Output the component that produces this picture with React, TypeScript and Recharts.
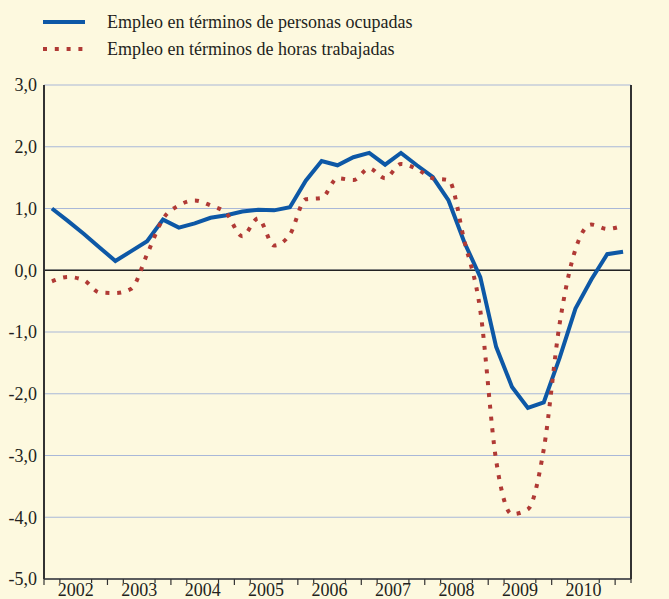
import React from 'react';
import { LineChart, Line, XAxis, YAxis, CartesianGrid, ReferenceLine } from 'recharts';

// quarterly series, 2002 Q1 .. 2011 Q1
const years = ['2002', '2003', '2004', '2005', '2006', '2007', '2008', '2009', '2010'];

const personas = [
  1.0, 0.8, 0.59, 0.37, 0.15, 0.31, 0.47, 0.82, 0.69, 0.76, 0.85, 0.89, 0.95,
  0.98, 0.97, 1.02, 1.45, 1.77, 1.7, 1.83, 1.9, 1.71, 1.9, 1.7, 1.51, 1.13,
  0.45, -0.11, -1.24, -1.89, -2.23, -2.14, -1.42, -0.62, -0.15, 0.26, 0.3,
];

const horas = [
  -0.18, -0.11, -0.16, -0.36, -0.37, -0.3, 0.26, 0.83, 1.05, 1.13, 1.05, 0.92,
  0.55, 0.84, 0.4, 0.58, 1.15, 1.17, 1.49, 1.46, 1.65, 1.49, 1.72, 1.64, 1.49,
  1.46, 0.47, -0.65, -3.08, -3.95, -3.87, -2.9, -0.87, 0.34, 0.74, 0.67, 0.72,
];

const yTicks = [-5, -4, -3, -2, -1, 0, 1, 2, 3];
const xTicks = Array.from({ length: 38 }, (_, i) => i);

const data = personas.map((v, i) => ({ q: i + 0.5, personas: v, horas: horas[i] }));

const FONT = 'Liberation Serif, Tinos, DejaVu Serif, serif';
const TEXT = '#231f20';
const BLUE = '#0d58a6';
const RED = '#b03a35';

const fmt = (v: number) => v.toFixed(1).replace('.', ',');

const XTick = (props: any) => {
  const { x, y, payload } = props;
  const v = payload.value;
  if (v % 4 === 2) {
    return (
      <text x={x} y={y + 17} textAnchor="middle" fill={TEXT} fontSize={18} fontFamily={FONT}>
        {years[(v - 2) / 4]}
      </text>
    );
  }
  const len = v % 4 === 0 ? 6 : 4;
  return <line x1={x} x2={x} y1={y} y2={y + len} stroke="#333" strokeWidth={1.2} />;
};

const Legend2 = () => (
  <div style={{ position: 'absolute', left: 0, top: 0, fontFamily: FONT, fontSize: 18, color: TEXT }}>
    <div style={{ position: 'absolute', left: 43, top: 12, width: 500, height: 20, lineHeight: '20px' }}>
      <svg width={42} height={20} style={{ position: 'absolute', left: 0, top: 0 }}>
        <line x1={0} x2={42} y1={10} y2={10} stroke={BLUE} strokeWidth={4} />
      </svg>
      <span style={{ position: 'absolute', left: 64, top: 0, whiteSpace: 'nowrap' }}>
        Empleo en términos de personas ocupadas
      </span>
    </div>
    <div style={{ position: 'absolute', left: 43, top: 39, width: 500, height: 20, lineHeight: '20px' }}>
      <svg width={42} height={20} style={{ position: 'absolute', left: 0, top: 0 }}>
        <line x1={0} x2={42} y1={10} y2={10} stroke={RED} strokeWidth={4} strokeDasharray="4 7.8" />
      </svg>
      <span style={{ position: 'absolute', left: 64, top: 0, whiteSpace: 'nowrap' }}>
        Empleo en términos de horas trabajadas
      </span>
    </div>
  </div>
);

export default function App() {
  return (
    <div style={{ position: 'absolute', left: 0, top: 0, width: 669, height: 599, background: '#fdf9df' }}>
      <Legend2 />
      <LineChart width={669} height={599} data={data} margin={{ top: 85, right: 0, bottom: 0, left: 0 }}>
        <CartesianGrid yAxisId="left" vertical={false} stroke="#a9b8d8" strokeWidth={1.2} />
        <XAxis
          dataKey="q"
          type="number"
          domain={[0, 37]}
          ticks={xTicks}
          interval={0}
          height={20}
          tickSize={0}
          tickMargin={0}
          tickLine={false}
          tick={<XTick />}
          axisLine={{ stroke: '#333', strokeWidth: 1.5 }}
        />
        <YAxis
          yAxisId="left"
          domain={[-5, 3]}
          ticks={yTicks}
          width={44}
          tickSize={0}
          tickMargin={7}
          tickLine={false}
          tickFormatter={fmt}
          axisLine={{ stroke: '#333', strokeWidth: 2 }}
          tick={{ fill: TEXT, fontSize: 18, fontFamily: FONT }}
        />
        <YAxis
          yAxisId="right"
          orientation="right"
          domain={[-5, 3]}
          ticks={yTicks}
          width={38}
          tickSize={0}
          tickMargin={9}
          tickLine={false}
          tickFormatter={fmt}
          axisLine={{ stroke: '#333', strokeWidth: 2 }}
          tick={{ fill: TEXT, fontSize: 18, fontFamily: FONT, textAnchor: 'start' }}
        />
        <ReferenceLine yAxisId="left" y={0} stroke="#222" strokeWidth={1.5} />
        <Line
          yAxisId="left"
          type="linear"
          dataKey="personas"
          stroke={BLUE}
          strokeWidth={4}
          dot={false}
          isAnimationActive={false}
        />
        <Line
          yAxisId="left"
          type="monotone"
          dataKey="horas"
          stroke={RED}
          strokeWidth={4}
          strokeDasharray="4 7.8"
          dot={false}
          isAnimationActive={false}
        />
      </LineChart>
    </div>
  );
}
